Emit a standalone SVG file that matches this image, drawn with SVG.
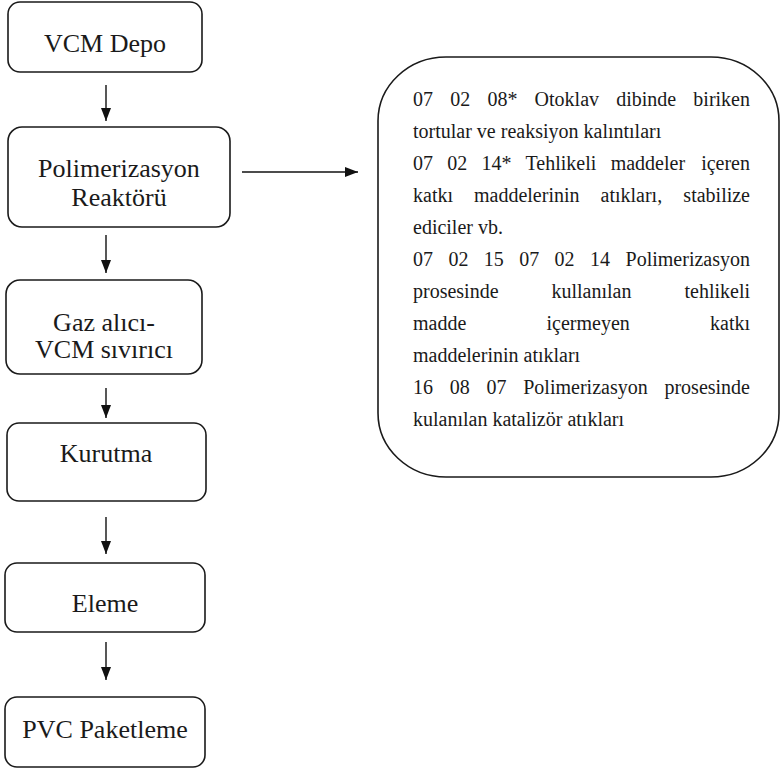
<svg xmlns="http://www.w3.org/2000/svg" width="781" height="769" viewBox="0 0 781 769">
  <style>
    .box { fill: #ffffff; stroke: #1a1a1a; stroke-width: 1.6; }
    .lbl { font-family: "Liberation Serif", "Times New Roman", serif; font-size: 26px; fill: #1a1a1a; text-anchor: middle; }
    .txt { font-family: "Liberation Serif", "Times New Roman", serif; font-size: 20px; fill: #1a1a1a; }
    .end { text-anchor: end; }
    .conn { stroke: #111111; stroke-width: 1.4; fill: none; marker-end: url(#arrow); }
  </style>
  <defs>
    <marker id="arrow" viewBox="0 0 13 10" refX="13" refY="5" markerWidth="13" markerHeight="10" markerUnits="userSpaceOnUse" orient="auto">
      <path d="M0,0 L13,5 L0,10 Z" fill="#111111"/>
    </marker>
  </defs>
  <rect width="781" height="769" fill="#ffffff"/>

  <!-- process steps -->
  <g id="vcm-depo">
    <rect class="box" x="8" y="2" width="194" height="70" rx="12"/>
    <text class="lbl" x="105" y="52">VCM Depo</text>
  </g>
  <g id="reaktor">
    <rect class="box" x="8" y="127" width="222" height="100" rx="14"/>
    <text class="lbl" x="119" y="177">Polimerizasyon</text>
    <text class="lbl" x="119" y="206">Reaktörü</text>
  </g>
  <g id="gaz-alici">
    <rect class="box" x="6" y="280" width="196" height="94" rx="14"/>
    <text class="lbl" x="104" y="331">Gaz alıcı-</text>
    <text class="lbl" x="104" y="358">VCM sıvırıcı</text>
  </g>
  <g id="kurutma">
    <rect class="box" x="7" y="423" width="199" height="78" rx="12"/>
    <text class="lbl" x="106" y="462">Kurutma</text>
  </g>
  <g id="eleme">
    <rect class="box" x="5" y="563" width="200" height="69" rx="12"/>
    <text class="lbl" x="105" y="612">Eleme</text>
  </g>
  <g id="pvc-paketleme">
    <rect class="box" x="5" y="697" width="200" height="70" rx="12"/>
    <text class="lbl" x="105" y="738">PVC Paketleme</text>
  </g>

  <!-- waste list: justified paragraph, last word of each full line pinned to the right margin -->
  <g id="atiklar">
    <rect class="box" x="378" y="57" width="401" height="420" rx="68" ry="64"/>
    <g class="txt">
      <text x="413" y="106" word-spacing="12.2">07 02 08* Otoklav dibinde</text>
      <text class="end" x="750" y="106">biriken</text>
      <text x="413" y="138">tortular ve reaksiyon kalıntıları</text>
      <text x="413" y="170" word-spacing="9.3">07 02 14* Tehlikeli maddeler</text>
      <text class="end" x="750" y="170">içeren</text>
      <text x="413" y="202" word-spacing="16">katkı maddelerinin atıkları,</text>
      <text class="end" x="750" y="202">stabilize</text>
      <text x="413" y="234">ediciler vb.</text>
      <text x="413" y="266" word-spacing="10.4">07 02 15 07 02 14</text>
      <text class="end" x="750" y="266">Polimerizasyon</text>
      <text x="413" y="298">prosesinde</text>
      <text x="551.5" y="298">kullanılan</text>
      <text class="end" x="750" y="298">tehlikeli</text>
      <text x="413" y="330">madde</text>
      <text x="546.5" y="330">içermeyen</text>
      <text class="end" x="750" y="330">katkı</text>
      <text x="413" y="362">maddelerinin atıkları</text>
      <text x="413" y="394" word-spacing="11.75">16 08 07 Polimerizasyon</text>
      <text class="end" x="750" y="394">prosesinde</text>
      <text x="413" y="426">kulanılan katalizör atıkları</text>
    </g>
  </g>

  <!-- connectors -->
  <g id="connectors">
    <line class="conn" x1="106" y1="85" x2="106" y2="121"/>
    <line class="conn" x1="106" y1="235" x2="106" y2="273"/>
    <line class="conn" x1="106" y1="388" x2="106" y2="418"/>
    <line class="conn" x1="106" y1="517" x2="106" y2="554"/>
    <line class="conn" x1="106" y1="642" x2="106" y2="680"/>
    <line class="conn" x1="242" y1="172" x2="358" y2="172"/>
  </g>
</svg>
